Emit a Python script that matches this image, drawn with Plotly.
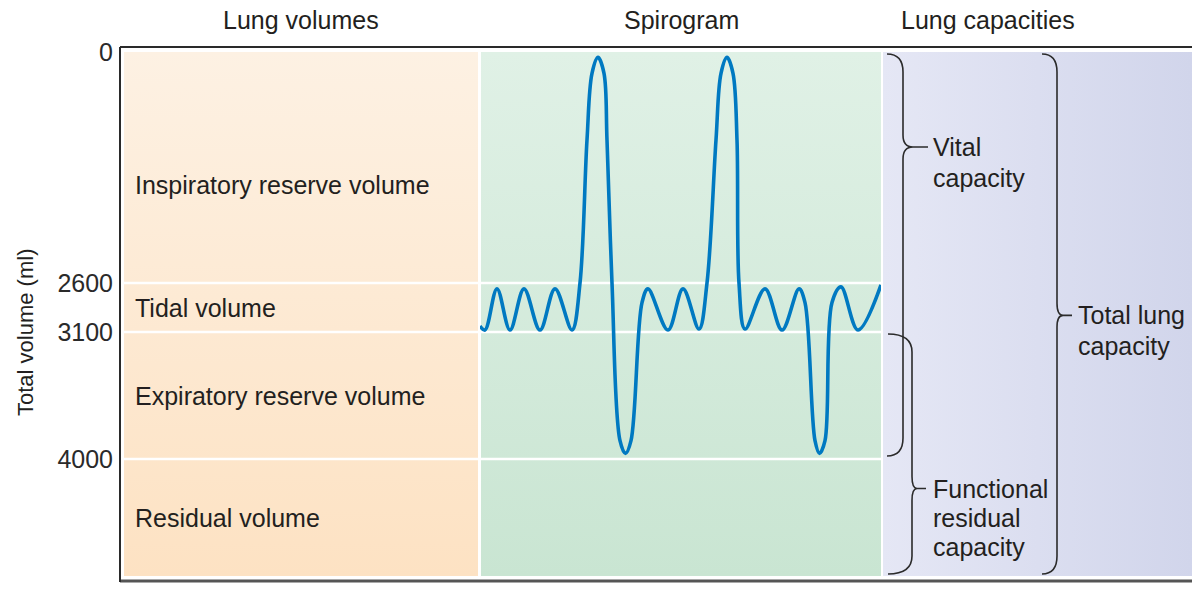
import numpy as np
import plotly.graph_objects as go

# ---------------- data ----------------
tick_volumes = [0, 2600, 3100, 4000, 5200]          # ml, y-axis tick labels
volume_names = ["Inspiratory reserve volume", "Tidal volume",
                "Expiratory reserve volume", "Residual volume"]
volume_label_ml = [1500, 2850, 3550, 4600]          # where each name sits
boundary_ml = [2600, 3100, 4000]                    # separators between volumes

# spirogram trace (time in s, total volume in ml; 0 = full inspiration)
spiro_t = [0.0, 0.5, 1.7, 3.0, 4.4, 6.0, 7.5, 9.2, 10.0, 10.7, 11.2, 11.8, 12.4,
           12.7, 13.2, 14.0, 14.55, 15.1, 16.2, 16.8, 18.8, 20.3, 21.9, 22.7, 23.6,
           24.1, 24.7, 25.3, 25.7, 25.9, 26.5, 28.5, 30.2, 31.9, 32.5, 33.5, 33.95,
           34.5, 35.2, 36.1, 37.8, 40.1]
spiro_ml = [3040, 3080, 2660, 3080, 2660, 3080, 2660, 3080, 2600, 990, 240, 60, 240,
            990, 2600, 3870, 3960, 3870, 2800, 2660, 3080, 2660, 3070, 2600, 990,
            240, 60, 240, 990, 2600, 3070, 2660, 3080, 2660, 2800, 3870, 3960,
            3870, 2800, 2640, 3080, 2620]

capacity_lines = [["Vital", "capacity"], ["Functional", "residual", "capacity"],
                  ["Total lung", "capacity"]]
capacity_start_ml = [0, 3100, 0]
capacity_end_ml = [4000, 5200, 5200]
capacity_tip_ml = [1070, 4300, 2930]

headings = ["Lung volumes", "Spirogram", "Lung capacities"]

# ---------------- layout helpers ----------------
W, H = 1192, 589
ML, MT, MB = 120, 47, 7
PW, PH = W - ML, H - MT - MB          # plot area in px
TICK_PX = [5, 236, 285, 412, 530]     # schematic (non-linear) scale positions


def disp(v):
    return np.interp(v, tick_volumes, TICK_PX)


FONT = "Liberation Sans, Arial, Helvetica, sans-serif"
TXT = "#231f20"
FS = 25

# panel x extents (px from plot left); colours given as (top/left, bottom/right)
PANELS = [
    (4, 358, "vertical", "#FDF1E3", "#FDE2C3"),
    (361, 761, "vertical", "#E0F1E6", "#C9E5D2"),
    (763, 1072, "horizontal", "#E5E7F5", "#D1D5EB"),
]

fig = go.Figure()

y_top = float(disp(tick_volumes[0]))
y_bot = float(disp(tick_volumes[-1])) - 1
for x0, x1, orient, c0, c1 in PANELS:
    scale = [[0, c0], [1, c1]] if orient == "horizontal" else [[0, c1], [1, c0]]
    fig.add_trace(go.Scatter(
        x=[x0, x1, x1, x0, x0], y=[y_top, y_top, y_bot, y_bot, y_top],
        mode="lines", line=dict(width=0), fill="toself",
        fillgradient=dict(type=orient, colorscale=scale),
        hoverinfo="skip", showlegend=False, xaxis="x", yaxis="y"))

# white separators between volumes
for b in boundary_ml:
    yb = float(disp(b))
    fig.add_trace(go.Scatter(x=[4, 761], y=[yb, yb], mode="lines",
                             line=dict(color="white", width=2.5),
                             hoverinfo="skip", showlegend=False,
                             xaxis="x", yaxis="y"))

# spirogram
fig.add_trace(go.Scatter(
    x=spiro_t, y=disp(spiro_ml), mode="lines",
    line=dict(color="#0079C1", width=3.6, shape="spline", smoothing=1.0),
    showlegend=False, xaxis="x2", yaxis="y", cliponaxis=False))

annotations = []
# headings (20 px from top of page)
heading_x = [301 - ML, 681 - ML, 988 - ML]
for h, hx in zip(headings, heading_x):
    annotations.append(dict(x=hx, xref="x", y=(H - MB - 20) / PH,
                            yref="paper", text=h, showarrow=False,
                            xanchor="center", yanchor="middle",
                            font=dict(family=FONT, size=FS, color=TXT)))

# volume names
for name, v in zip(volume_names, volume_label_ml):
    annotations.append(dict(x=13, xref="x", y=float(disp(v)), yref="y", text=name,
                            showarrow=False, xanchor="left", yanchor="middle",
                            font=dict(family=FONT, size=FS, color=TXT)))

# braces for capacities
BRACES = [  # x_end, x_bar, x_tip, x_tick, text_x (px absolute)
    (887, 903, 913, 928, 931),
    (888, 912, 917, 926, 931),
    (1042, 1057, 1063, 1072, 1076),
]
LINE_H = [31, 29, 30.5]
shapes = []
for (xe, xb, xt, xk, tx), v0, v1, vt, lines, lh in zip(
        BRACES, capacity_start_ml, capacity_end_ml, capacity_tip_ml,
        capacity_lines, LINE_H):
    xe, xb, xt, xk, tx = [p - ML for p in (xe, xb, xt, xk, tx)]
    y0 = float(disp(v0)) + 2
    y1 = float(disp(v1)) - 3
    yt = float(disp(vt))
    r, rt = 18, 12
    path = (f"M{xe},{y0} Q{xb},{y0} {xb},{y0 + r} L{xb},{yt - rt} "
            f"Q{xb},{yt} {xt},{yt} Q{xb},{yt} {xb},{yt + rt} "
            f"L{xb},{y1 - r} Q{xb},{y1} {xe},{y1} M{xt},{yt} L{xk},{yt}")
    shapes.append(dict(type="path", path=path, xref="x", yref="y",
                       line=dict(color="#2b2b2b", width=1.6), layer="above"))
    for i, line in enumerate(lines):
        annotations.append(dict(x=tx, xref="x", y=yt + i * lh, yref="y",
                                text=line, showarrow=False, xanchor="left",
                                yanchor="middle", align="left",
                                font=dict(family=FONT, size=FS, color=TXT)))

# axis title
annotations.append(dict(x=(25 - ML) / PW, xref="paper", y=(H - MB - 333) / PH,
                        yref="paper", text="Total volume (ml)", textangle=-90,
                        showarrow=False, xanchor="center", yanchor="middle",
                        font=dict(family=FONT, size=22, color=TXT)))

# frame lines
shapes += [
    dict(type="line", xref="paper", yref="paper", x0=0, x1=1, y0=1, y1=1,
         line=dict(color="#2a2a2a", width=2), layer="above"),
    dict(type="line", xref="paper", yref="paper", x0=0, x1=1, y0=0.002, y1=0.002,
         line=dict(color="#555555", width=3), layer="above"),
    dict(type="line", xref="paper", yref="paper", x0=0, x1=0, y0=0, y1=1,
         line=dict(color="#2a2a2a", width=2), layer="above"),
]

fig.update_layout(
    width=W, height=H, autosize=False,
    margin=dict(l=ML, r=0, t=MT, b=MB, pad=0),
    paper_bgcolor="white", plot_bgcolor="rgba(0,0,0,0)",
    xaxis=dict(range=[0, PW], visible=False, fixedrange=True),
    xaxis2=dict(range=[0, 40.1], domain=[(480 - ML) / PW, (881 - ML) / PW],
                anchor="y", visible=False),
    yaxis=dict(range=[PH, 0], tickvals=[float(disp(v)) for v in tick_volumes],
               ticktext=[str(v) for v in tick_volumes], showgrid=False,
               zeroline=False, showline=False, ticks="", ticklabelstandoff=6,
               tickfont=dict(family=FONT, size=FS, color="#2a2a2a")),
    annotations=annotations, shapes=shapes, showlegend=False,
)

fig.write_html("out.html", config={"displayModeBar": False},
               post_script="document.body.style.margin='0';")
